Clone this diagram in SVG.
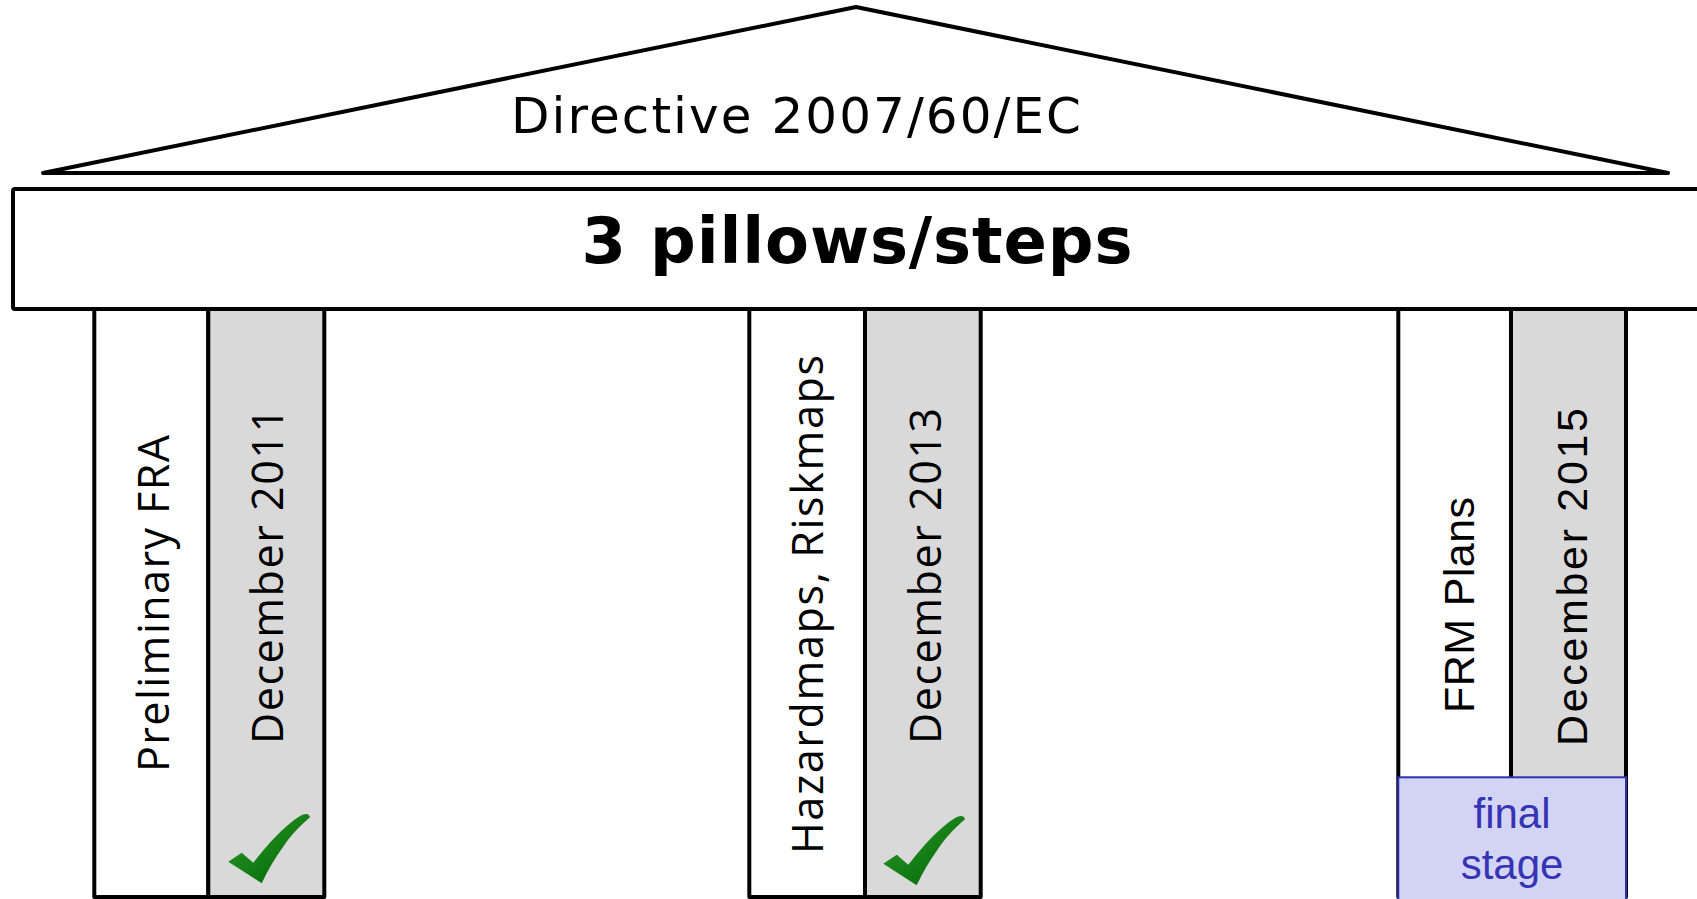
<svg xmlns="http://www.w3.org/2000/svg" width="1697" height="899" viewBox="0 0 1697 899">
<defs>
<style>
.ln{stroke:#000;stroke-width:4;stroke-linejoin:round}
.wh{fill:#fff}
.gr{fill:#d9d9d9}
.os{font-family:"Open Sans","Liberation Sans",sans-serif;font-size:43px;fill:#000}
.ls{font-family:"Liberation Sans",Arial,sans-serif;font-size:43px;fill:#000}
.fin{font-family:"Liberation Sans",Arial,sans-serif;font-size:42px;fill:#3434b4;text-anchor:middle}
</style>
<linearGradient id="gg" x1="0" y1="0" x2="1" y2="1">
<stop offset="0" stop-color="#2c9a2c"/>
<stop offset="1" stop-color="#006400"/>
</linearGradient>
<path id="check" d="M228.3,861.7 L241.7,852.7 L253.3,862.7 C268,844 284,826 300,816 C305,813 309,813 310,817.3 C300,826 290,836 283,847 C275,858 268,870 261.7,883.3 Z" fill="url(#gg)"/>
</defs>
<rect width="1697" height="899" fill="#fff"/>

<g id="pillar1">
<rect class="ln wh" x="94.3" y="300" width="114" height="597"/>
<rect class="ln gr" x="208.3" y="300" width="116" height="597"/>
<text class="os" transform="translate(168.7,772) rotate(-90)" textLength="337" lengthAdjust="spacing">Preliminary FRA</text>
<text class="os" transform="translate(283.3,744) rotate(-90)" textLength="336" lengthAdjust="spacing">December 2011</text>
<use href="#check"/>
</g>

<g id="pillar2">
<rect class="ln wh" x="749.3" y="300" width="115.7" height="597"/>
<rect class="ln gr" x="865" y="300" width="115.7" height="597"/>
<text class="os" transform="translate(823.3,854) rotate(-90)" textLength="499" lengthAdjust="spacing">Hazardmaps, Riskmaps</text>
<text class="os" transform="translate(941,744) rotate(-90)" textLength="336" lengthAdjust="spacing">December 2013</text>
<use href="#check" transform="translate(655,2)"/>
</g>

<g id="pillar3">
<rect class="ln wh" x="1398.3" y="300" width="112.7" height="597"/>
<rect class="ln gr" x="1511" y="300" width="115" height="597"/>
<text class="ls" transform="translate(1474,713) rotate(-90)" textLength="216" lengthAdjust="spacing">FRM Plans</text>
<text class="ls" transform="translate(1587,746) rotate(-90)" textLength="338" lengthAdjust="spacing">December 2015</text>
</g>

<g id="final-stage">
<rect x="1398.3" y="777.3" width="227.7" height="130" fill="#d3d3f4" stroke="#3030b0" stroke-width="2"/>
<text class="fin" x="1512" y="828">final</text>
<text class="fin" x="1512" y="879">stage</text>
</g>

<g id="beam">
<rect class="ln wh" x="13" y="189" width="1700" height="120" rx="2"/>
<text x="857" y="263" font-family="'DejaVu Sans',Verdana,sans-serif" font-weight="bold" font-size="64" text-anchor="middle" textLength="551" lengthAdjust="spacing">3 pillows/steps</text>
</g>

<g id="roof">
<polygon class="ln wh" points="43,173 856,7 1668,173"/>
<text x="796" y="133" font-family="'DejaVu Sans',Verdana,sans-serif" font-size="50" text-anchor="middle" textLength="570" lengthAdjust="spacing">Directive 2007/60/EC</text>
</g>

<g id="connectors"></g>
</svg>
